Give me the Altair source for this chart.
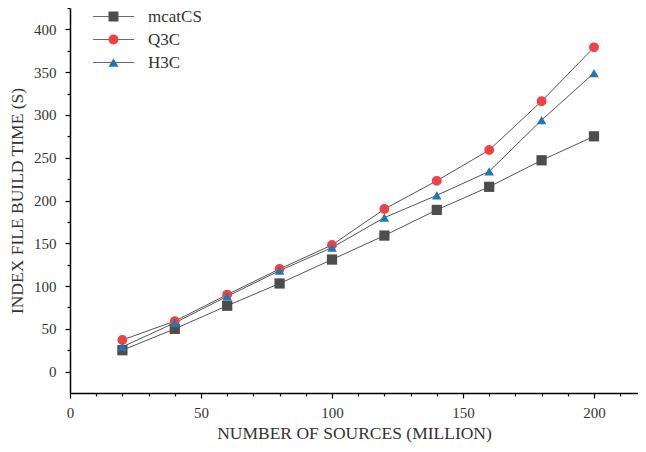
import altair as alt
import pandas as pd

# ---- data ----
sources = [20, 40, 60, 80, 100, 120, 140, 160, 180, 200]
mcatcs = [25, 50, 77, 103, 131, 159, 189, 216, 247, 275]
q3c = [37, 59, 90, 120, 148, 190, 223, 259, 316, 379]
h3c = [29, 57, 88, 118, 145, 180, 206, 234, 294, 349]

series_names = ["mcatCS", "Q3C", "H3C"]
series_colors = ["#4d4d4d", "#ef4242", "#1f77b4"]
series_shapes = ["square", "circle", "triangle-up"]
series_sizes = [105, 90, 165]

x_ticks = list(range(0, 211, 10))
y_ticks = list(range(0, 426, 25))

rows = []
for name, vals in zip(series_names, [mcatcs, q3c, h3c]):
    for xv, yv in zip(sources, vals):
        rows.append({"series": name, "sources": xv, "time": yv})
df = pd.DataFrame(rows)

line_keys = [n + " line" for n in series_names]

FONT = "Liberation Serif"
TXT = "#333333"

x_enc = alt.X(
    "sources:Q",
    scale=alt.Scale(domain=[0, 216.8], nice=False, zero=False),
    axis=alt.Axis(
        title="NUMBER OF SOURCES (MILLION)",
        values=x_ticks,
        labelExpr="datum.value % 50 === 0 ? datum.label : ''",
        tickSize={"condition": {"test": "datum.value % 50 === 0", "value": 5}, "value": 3},
        labelOverlap=False,
        labelFlush=False,
        grid=False,
        labelPadding=7,
        titlePadding=4,
    ),
)
y_enc = alt.Y(
    "time:Q",
    scale=alt.Scale(domain=[-25, 425], nice=False, zero=False),
    axis=alt.Axis(
        title="INDEX FILE BUILD TIME (S)",
        values=y_ticks,
        labelExpr="datum.value % 50 === 0 ? datum.label : ''",
        tickSize={"condition": {"test": "datum.value % 50 === 0", "value": 5}, "value": 3},
        labelOverlap=False,
        labelFlush=False,
        grid=False,
        labelPadding=9,
        titlePadding=7,
    ),
)

lines = alt.Chart(df).mark_line(color="#555555", strokeWidth=1).encode(
    x=x_enc, y=y_enc, detail="series:N"
)

points = alt.Chart(df).mark_point(filled=True, opacity=1).encode(
    x=x_enc,
    y=y_enc,
    color=alt.Color("series:N", scale=alt.Scale(domain=series_names, range=series_colors), legend=None),
    shape=alt.Shape("series:N", scale=alt.Scale(domain=series_names, range=series_shapes), legend=None),
    size=alt.Size("series:N", scale=alt.Scale(domain=series_names, range=series_sizes), legend=None),
)

LEG_X = 35
LEG_Y = 0
LEG_FONT = 17
LEG_ROWPAD = 5

legend_lines = (
    alt.Chart(df)
    .transform_calculate(series_line="datum.series + ' line'")
    .transform_filter("false")
    .mark_point(filled=True, color="#6a6a6a", opacity=1)
    .encode(
        shape=alt.Shape(
            "series_line:N",
            scale=alt.Scale(domain=line_keys, range=["M-4.1,-0.1H4.1V0.1H-4.1Z"] * 3),
            legend=alt.Legend(
                title=None, orient="none", legendX=LEG_X, legendY=LEG_Y,
                symbolSize=100, symbolStrokeWidth=0, symbolFillColor="#6a6a6a",
                symbolOpacity=1, labelExpr="''",
                labelFont=FONT, labelFontSize=LEG_FONT, labelOffset=26,
                rowPadding=LEG_ROWPAD, padding=0,
            ),
        )
    )
)

leg_common = dict(
    title=None, orient="none", legendX=LEG_X, legendY=LEG_Y,
    symbolSize=100, symbolStrokeWidth=0,
    labelFont=FONT, labelFontSize=LEG_FONT, labelColor=TXT, labelOffset=26,
    rowPadding=LEG_ROWPAD, padding=0,
)

legend_marks = (
    alt.Chart(df)
    .transform_filter("false")
    .mark_point(filled=True, opacity=1)
    .encode(
        color=alt.Color(
            "series:N",
            scale=alt.Scale(domain=series_names, range=series_colors),
            legend=alt.Legend(**leg_common),
        ),
        shape=alt.Shape(
            "series:N",
            scale=alt.Scale(domain=series_names, range=series_shapes),
            legend=alt.Legend(**leg_common),
        ),
    )
)

chart = (
    alt.layer(legend_lines, lines, points, legend_marks)
    .resolve_scale(shape="independent", color="independent")
    .properties(
        width=568,
        height=385,
        autosize=alt.AutoSizeParams(type="none"),
        padding={"left": 62, "top": 0, "right": 0, "bottom": 51},
        background="white",
    )
    .configure_view(stroke=None)
    .configure_axis(
        domainColor="#000000",
        domainWidth=1.5,
        tickColor="#000000",
        tickWidth=1.2,
        labelFont=FONT,
        labelFontSize=15,
        labelColor=TXT,
        titleFont=FONT,
        titleFontSize=17.5,
        titleFontWeight="normal",
        titleColor=TXT,
    )
)

chart.save("out.html", embed_options={"renderer": "svg", "actions": False})
